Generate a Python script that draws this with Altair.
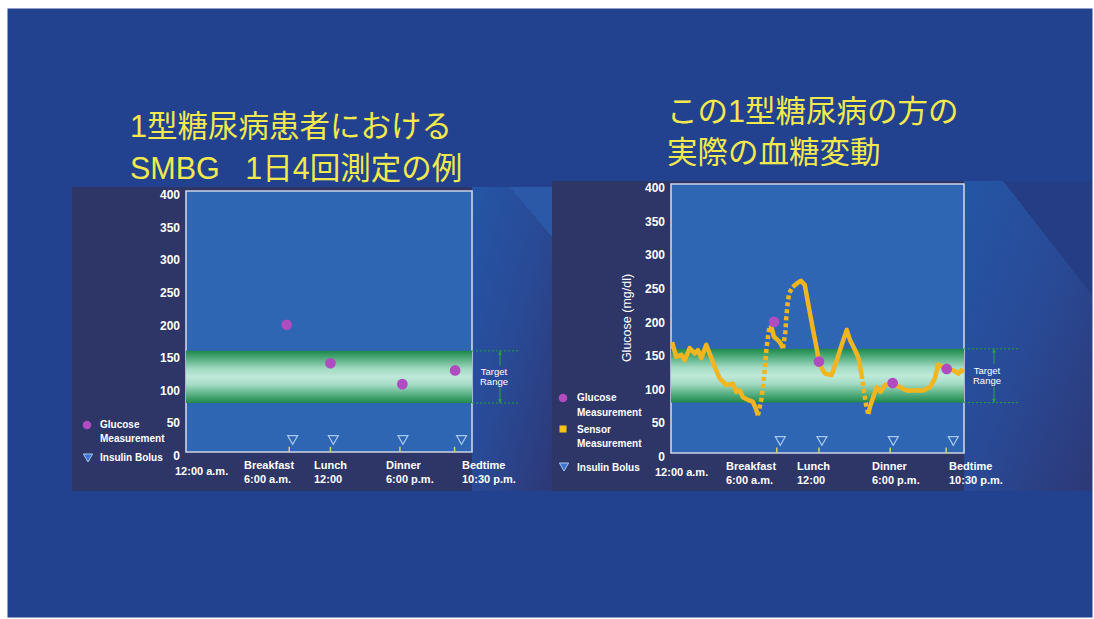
import altair as alt
import pandas as pd

# ---------------------------------------------------------------- data
# schematic day axis: hour stops and the share of the plot width given to each
TIME_STOPS = [0, 6, 12, 18, 22.5, 24]
TIME_FRACTIONS = [0, 0.361, 0.505, 0.748, 0.939, 1.0]
TIME_LABELS = [["12:00 a.m."], ["Breakfast", "6:00 a.m."], ["Lunch", "12:00"],
               ["Dinner", "6:00 p.m."], ["Bedtime", "10:30 p.m."]]
MEAL_TICK_HOURS = [6, 12, 18, 22.5]
GLUCOSE_TICKS = [0, 50, 100, 150, 200, 250, 300, 350, 400]
TARGET_RANGE = [75, 155]

# finger-stick readings (SMBG) and insulin boluses
SMBG_HOURS = [5.85, 12.0, 18.2, 22.55]
SMBG_MGDL = [195, 136, 104, 125]
BOLUS_HOURS = [6.5, 12.25, 18.25, 23.1]

# continuous sensor trace
SENSOR_HOURS = [0.06, 0.30, 0.58, 0.78, 1.06, 1.34, 1.53, 1.72, 2.00, 2.19, 2.48,
                2.76, 3.14, 3.52, 3.70, 3.90, 4.08, 4.37, 4.65, 4.84, 4.93,
                5.12, 5.22, 5.31, 5.41, 5.50, 5.60,
                5.69, 5.84, 5.97, 6.42, 6.89,
                7.22, 7.34, 7.55, 7.77, 8.26,
                8.97, 9.43, 9.98, 10.45, 11.16, 11.63, 12.0, 12.34, 12.51, 13.07,
                13.5, 14.05, 14.34, 14.62, 15.04, 15.30, 15.60,
                15.80, 16.0, 16.16,
                16.3, 16.87, 17.2, 17.55, 18.2, 18.79, 19.33, 20.0, 20.66, 21.2,
                21.6, 21.86, 22.2, 22.55, 23.1, 23.52, 23.77, 24.0]
SENSOR_MGDL = [165, 143, 146, 138, 156, 148, 153, 141, 161, 148, 128,
               111, 101, 103, 91, 93, 83, 79, 76, 64, 56,
               79, 98, 123, 153, 173, 190,
               188, 173, 170, 165, 156,
               180, 200, 223, 238, 247,
               253, 256, 250, 223, 183, 158, 136, 123, 118, 116,
               138, 168, 183, 168, 153, 143, 116,
               91, 68, 58,
               69, 98, 91, 101, 103, 98, 93, 93, 93, 98,
               111, 131, 128, 125, 123, 118, 123, 121]
# stretches where readings change fast and the trace breaks into dots
SPARSE_SPANS = [(4.93, 5.69), (6.89, 8.26), (15.60, 16.16)]

TITLE_LEFT = ["1型糖尿病患者における", "SMBG\u00a0\u00a0\u00a01日4回測定の例"]
TITLE_RIGHT = ["この1型糖尿病の方の", "実際の血糖変動"]

# ---------------------------------------------------------------- styling
SLIDE = "#22418f"
CARD = "#2e3567"
PLOT_FILL = "#2e66b3"
FRAME_STROKE = "#cdd4e4"
YELLOW_TITLE = "#f2ea4c"
SENSOR = "#f2b520"
SMBG = "#b04cc0"
TARGET_GREEN = "#2b9a45"
TITLE_FONT = "Liberation Sans, Noto Sans CJK JP, sans-serif"
SANS = "Liberation Sans, Arial, sans-serif"

W, H = 1085, 609
ONE = pd.DataFrame({"_": [0]})

LEFT = dict(frame=(179, 465, 183, 444), card=(65, 545, 179, 483),
            label_x=[168, 237, 307, 379, 455], text_dx=22, arrow_dx=28, dot_dx=48,
            corner=(503, 545, 179, 229), corner_color="#2b59a8")
RIGHT = dict(frame=(664, 957, 176, 445), card=(545, W, 173, 483),
             label_x=[648, 719, 790, 865, 942], text_dx=23, arrow_dx=30, dot_dx=55,
             corner=(996, W, 173, 287), corner_color="#243d85")


def box(x0, x1, y0, y1, **mark):
    return alt.Chart(ONE).mark_rect(**mark).encode(
        x=alt.value(x0), x2=alt.value(x1), y=alt.value(y0), y2=alt.value(y1))


def label(text, x, y, size, color="white", weight="bold", font=SANS,
          align="left", baseline="middle", **kw):
    return alt.Chart(ONE).mark_text(
        text=text, fontSize=size, color=color, fontWeight=weight, font=font,
        align=align, baseline=baseline, **kw).encode(x=alt.value(x), y=alt.value(y))


def scales(p):
    x0, x1, y0, y1 = p["frame"]
    xs = alt.Scale(domain=TIME_STOPS, range=[x0 + (x1 - x0) * f for f in TIME_FRACTIONS],
                   nice=False, zero=False)
    ys = alt.Scale(domain=[GLUCOSE_TICKS[0], GLUCOSE_TICKS[-1]], range=[y1, y0],
                   nice=False, zero=False)
    return xs, ys


def grad(stops, x1=0, y1=0, x2=0, y2=1):
    return alt.Gradient(gradient="linear", x1=x1, y1=y1, x2=x2, y2=y2,
                        stops=[alt.GradientStop(offset=o, color=c) for o, c in stops])


def sensor_frame():
    rows, seg, prev = [], 0, None
    for i in range(len(SENSOR_HOURS) - 1):
        a, b = SENSOR_HOURS[i], SENSOR_HOURS[i + 1]
        style = "sparse" if any(lo <= a and b <= hi for lo, hi in SPARSE_SPANS) else "dense"
        if style != prev:
            seg += 1
            rows.append(dict(hour=a, mgdl=SENSOR_MGDL[i], seg=seg, style=style))
            prev = style
        rows.append(dict(hour=b, mgdl=SENSOR_MGDL[i + 1], seg=seg, style=style))
    return pd.DataFrame(rows)


def panel_backdrop(p):
    cx0, cx1, cy0, cy1 = p["card"]
    fx1 = p["frame"][1]
    kx0, kx1, ky0, ky1 = p["corner"]
    glow = grad([(0, "#2456a6"), (0.5, "#294a96"), (1, "#2d3877")], 0, 0, 1, 1)
    corner = grad([(0, "rgba(0,0,0,0)"), (0.5, "rgba(0,0,0,0)"),
                   (0.5, p["corner_color"]), (1, p["corner_color"])], 0, 1, 1, 0)
    return [box(cx0, cx1, cy0, cy1, fill=CARD),
            box(fx1, cx1, cy0, cy1, fill=glow),
            box(kx0, kx1, ky0, ky1, fill=corner)]


def panel(p, with_sensor):
    xs, ys = scales(p)
    x0, x1, y0, y1 = p["frame"]
    X = lambda f: alt.X(f, scale=xs, axis=None)
    Y = lambda f: alt.Y(f, scale=ys, axis=None)

    frame_df = pd.DataFrame({"t0": [TIME_STOPS[0]], "t1": [TIME_STOPS[-1]],
                             "g0": [GLUCOSE_TICKS[0]], "g1": [GLUCOSE_TICKS[-1]],
                             "lo": [TARGET_RANGE[0]], "hi": [TARGET_RANGE[1]]})
    frame = alt.Chart(frame_df).mark_rect(fill=PLOT_FILL, stroke=FRAME_STROKE, strokeWidth=1.6).encode(
        x=X("t0:Q"), x2="t1:Q", y=Y("g0:Q"), y2="g1:Q")
    band_fill = grad([(0, "#1f874c"), (0.12, "#47a673"), (0.35, "#a3dbc4"),
                      (0.5, "#bfe9d9"), (0.65, "#a3dbc4"), (0.88, "#47a673"), (1, "#1f874c")])
    band = alt.Chart(frame_df).mark_rect(fill=band_fill).encode(
        x=X("t0:Q"), x2="t1:Q", y=Y("hi:Q"), y2="lo:Q")

    ticks = alt.Chart(pd.DataFrame({"hour": MEAL_TICK_HOURS})).mark_rule(
        color="#d6cf6c", strokeWidth=1.5).encode(
        x=X("hour:Q"), y=alt.YDatum(0, scale=ys, axis=None), y2=alt.Y2Datum(8))

    bolus = alt.Chart(pd.DataFrame({"hour": BOLUS_HOURS})).mark_point(
        shape="triangle-down", filled=True, fill=PLOT_FILL, stroke="#a6c8f0",
        strokeWidth=1.2, size=100, opacity=1).encode(x=X("hour:Q"), y=alt.value(y1 - 12))

    smbg = alt.Chart(pd.DataFrame({"hour": SMBG_HOURS, "mgdl": SMBG_MGDL})).mark_point(
        shape="circle", filled=True, color=SMBG, size=115, opacity=1).encode(
        x=X("hour:Q"), y=Y("mgdl:Q"))

    ytick_labels = alt.Chart(pd.DataFrame({"v": GLUCOSE_TICKS})).mark_text(
        align="right", baseline="middle", font=SANS, fontWeight="bold", fontSize=12,
        color="white", dy=4).encode(x=alt.value(x0 - 6), y=Y("v:Q"), text="v:Q")

    # target-range bracket to the right of the plot
    tr_df = pd.DataFrame({"lvl": TARGET_RANGE})
    dotted = alt.Chart(tr_df).mark_rule(color=TARGET_GREEN, strokeWidth=1, strokeDash=[2, 2]).encode(
        y=Y("lvl:Q"), x=alt.value(x1), x2=alt.value(x1 + p["dot_dx"]))
    mid = (TARGET_RANGE[0] + TARGET_RANGE[1]) / 2
    gap = 17
    shaft_df = pd.DataFrame({"a": [TARGET_RANGE[1], mid - gap], "b": [mid + gap, TARGET_RANGE[0]]})
    shaft = alt.Chart(shaft_df).mark_rule(color=TARGET_GREEN, strokeWidth=1.2).encode(
        y=Y("a:Q"), y2="b:Q", x=alt.value(x1 + p["arrow_dx"]))
    heads_df = pd.DataFrame({"lvl": [TARGET_RANGE[1] - 3, TARGET_RANGE[0] + 3],
                             "shape": ["triangle-up", "triangle-down"]})
    heads = alt.Chart(heads_df).mark_point(filled=True, color=TARGET_GREEN, size=18, opacity=1).encode(
        y=Y("lvl:Q"), x=alt.value(x1 + p["arrow_dx"]),
        shape=alt.Shape("shape:N", scale=None, legend=None))
    tr_text = [alt.Chart(ONE).mark_text(text=t, font=SANS, fontSize=9.5, color="white",
                                        align="center", baseline="middle", dy=d).encode(
        x=alt.value(x1 + p["text_dx"]), y=alt.YDatum(mid, scale=ys, axis=None))
        for t, d in (("Target", -5), ("Range", 5))]

    layers = [frame, band, ticks, bolus]
    if with_sensor:
        sensor = alt.Chart(sensor_frame()).mark_line(
            color=SENSOR, strokeWidth=4.5, strokeCap="butt", strokeJoin="round").encode(
            x=X("hour:Q"), y=Y("mgdl:Q"), detail="seg:N",
            strokeDash=alt.StrokeDash("style:N", legend=None,
                                      scale=alt.Scale(domain=["dense", "sparse"],
                                                      range=[[1, 0], [4, 3]])))
        layers.append(sensor)
    layers += [smbg, ytick_labels, dotted, shaft, heads] + tr_text

    # time-of-day captions under the plot
    for lines, lx in zip(TIME_LABELS, p["label_x"]):
        if len(lines) == 1:
            layers.append(label(lines[0], lx, y1 + 20, 11))
        else:
            layers.append(label(lines[0], lx, y1 + 14, 11))
            layers.append(label(lines[1], lx, y1 + 27.5, 11))
    return alt.layer(*layers)


# ---------------------------------------------------------------- legends
def legend_left():
    return [
        alt.Chart(ONE).mark_point(shape="circle", filled=True, color=SMBG, size=75, opacity=1).encode(
            x=alt.value(80), y=alt.value(417)),
        label("Glucose", 93, 417, 10), label("Measurement", 93, 431, 10),
        alt.Chart(ONE).mark_point(shape="triangle-down", filled=True, fill="#3b73d6", stroke="#a9c8f0",
                                  strokeWidth=1, size=85, opacity=1).encode(
            x=alt.value(81), y=alt.value(450)),
        label("Insulin Bolus", 93, 450, 10),
    ]


def legend_right():
    return [
        alt.Chart(ONE).mark_point(shape="circle", filled=True, color=SMBG, size=75, opacity=1).encode(
            x=alt.value(556), y=alt.value(390)),
        label("Glucose", 570, 390, 10), label("Measurement", 570, 405, 10),
        alt.Chart(ONE).mark_point(shape="square", filled=True, color="#f5c31c", size=50, opacity=1).encode(
            x=alt.value(556), y=alt.value(421)),
        label("Sensor", 570, 422, 10), label("Measurement", 570, 436, 10),
        alt.Chart(ONE).mark_point(shape="triangle-down", filled=True, fill="#3b73d6", stroke="#a9c8f0",
                                  strokeWidth=1, size=85, opacity=1).encode(
            x=alt.value(557), y=alt.value(459)),
        label("Insulin Bolus", 570, 460, 10),
        label("Glucose (mg/dl)", 620, 310, 12.5, weight="normal",
              align="center", angle=270),
    ]


titles = [
    label(TITLE_LEFT[0], 123, 120, 30.5, color=YELLOW_TITLE, weight="normal", font=TITLE_FONT),
    label(TITLE_LEFT[1], 123, 162, 30.5, color=YELLOW_TITLE, weight="normal", font=TITLE_FONT),
    label(TITLE_RIGHT[0], 660, 105, 30.5, color=YELLOW_TITLE, weight="normal", font=TITLE_FONT),
    label(TITLE_RIGHT[1], 660, 146, 30.5, color=YELLOW_TITLE, weight="normal", font=TITLE_FONT),
]

left_panel = panel(LEFT, with_sensor=False)
right_panel = panel(RIGHT, with_sensor=True)

chart = alt.layer(
    *panel_backdrop(LEFT), *panel_backdrop(RIGHT),
    *titles, *legend_left(), *legend_right(),
    left_panel, right_panel,
).resolve_scale(
    x="independent", y="independent"
).properties(
    width=W, height=H,
    padding={"left": 7, "top": 8, "right": 2, "bottom": 2},
    autosize=alt.AutoSizeParams(type="none"),
    background="white",
).configure_view(fill=SLIDE, stroke="transparent")

chart.save("out.html", embed_options={"renderer": "svg", "actions": False})
